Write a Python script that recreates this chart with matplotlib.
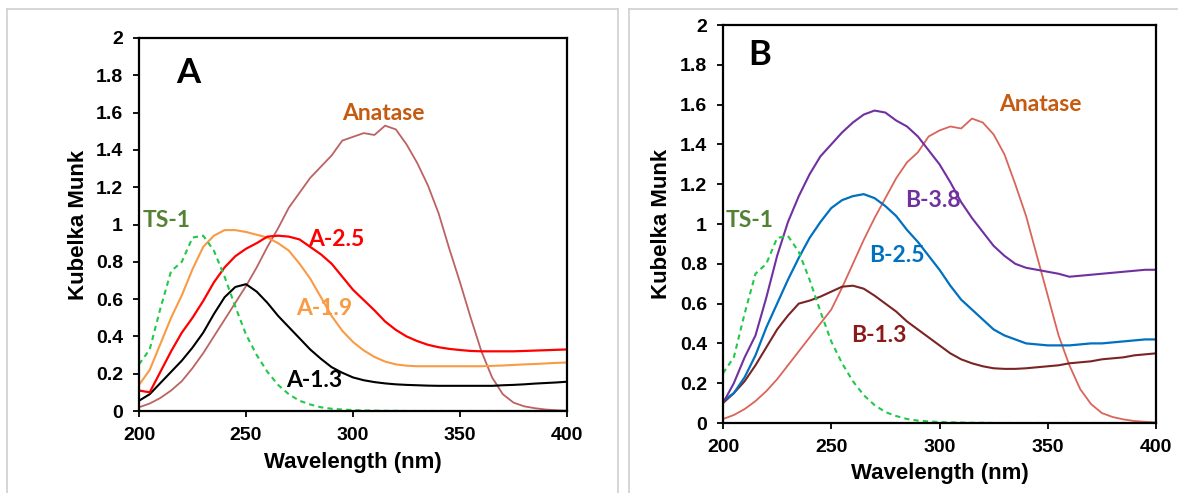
import numpy as np
import matplotlib
matplotlib.use('Agg')
import matplotlib.pyplot as plt
from matplotlib.lines import Line2D
from matplotlib.ticker import FuncFormatter

# wavelength grid, 5 nm steps
wl = np.arange(200, 401, 5)

# --- panel A ---
ts1 = [0.25, 0.33, 0.55, 0.75, 0.80, 0.93, 0.94, 0.86, 0.72, 0.56, 0.41,
       0.30, 0.21, 0.14, 0.09, 0.055, 0.035, 0.02, 0.012, 0.008, 0.005,
       0.003, 0.002, 0.001, 0.001, 0.0, 0.0, 0.0, 0.0, 0.0, 0.0,
       0.0, 0.0, 0.0, 0.0, 0.0, 0.0, 0.0, 0.0, 0.0, 0.0]
anatase_a = [0.02, 0.04, 0.07, 0.11, 0.16, 0.23, 0.31, 0.40, 0.49, 0.58, 0.67,
             0.77, 0.88, 0.98, 1.09, 1.17, 1.25, 1.31, 1.37, 1.45, 1.47,
             1.49, 1.48, 1.53, 1.51, 1.43, 1.33, 1.21, 1.06, 0.87, 0.69,
             0.50, 0.32, 0.18, 0.09, 0.045, 0.025, 0.015, 0.008, 0.004, 0.002]
a25 = [0.11, 0.10, 0.21, 0.32, 0.42, 0.50, 0.59, 0.69, 0.77, 0.83, 0.87,
       0.90, 0.935, 0.94, 0.935, 0.92, 0.88, 0.84, 0.79, 0.72, 0.65,
       0.595, 0.54, 0.48, 0.435, 0.40, 0.375, 0.355, 0.342, 0.333, 0.327,
       0.322, 0.32, 0.32, 0.32, 0.32, 0.322, 0.324, 0.326, 0.328, 0.33]
a19 = [0.14, 0.22, 0.36, 0.50, 0.62, 0.76, 0.88, 0.94, 0.97, 0.97, 0.96,
       0.945, 0.93, 0.90, 0.86, 0.79, 0.71, 0.61, 0.51, 0.43, 0.37,
       0.325, 0.29, 0.265, 0.25, 0.243, 0.24, 0.24, 0.24, 0.24, 0.24,
       0.24, 0.24, 0.242, 0.244, 0.247, 0.25, 0.252, 0.255, 0.258, 0.26]
a13 = [0.055, 0.09, 0.15, 0.21, 0.27, 0.34, 0.42, 0.52, 0.61, 0.665, 0.68,
       0.64, 0.58, 0.51, 0.45, 0.39, 0.33, 0.28, 0.235, 0.205, 0.18,
       0.165, 0.155, 0.148, 0.143, 0.14, 0.138, 0.136, 0.135, 0.135, 0.135,
       0.135, 0.135, 0.135, 0.138, 0.14, 0.143, 0.147, 0.15, 0.153, 0.157]

# --- panel B ---
anatase_b = [0.02, 0.04, 0.07, 0.11, 0.16, 0.22, 0.29, 0.36, 0.43, 0.50, 0.57,
             0.68, 0.80, 0.92, 1.03, 1.13, 1.23, 1.31, 1.36, 1.44, 1.47,
             1.49, 1.48, 1.53, 1.51, 1.45, 1.35, 1.20, 1.04, 0.84, 0.64,
             0.44, 0.29, 0.17, 0.095, 0.05, 0.03, 0.018, 0.01, 0.006, 0.003]
b38 = [0.10, 0.20, 0.33, 0.44, 0.63, 0.84, 1.01, 1.14, 1.25, 1.34, 1.40,
       1.46, 1.51, 1.55, 1.57, 1.56, 1.52, 1.49, 1.44, 1.37, 1.30,
       1.21, 1.11, 1.03, 0.96, 0.89, 0.84, 0.80, 0.78, 0.77, 0.76,
       0.75, 0.735, 0.74, 0.745, 0.75, 0.755, 0.76, 0.765, 0.77, 0.77]
b25 = [0.11, 0.15, 0.23, 0.34, 0.48, 0.60, 0.72, 0.83, 0.93, 1.01, 1.08,
       1.12, 1.14, 1.15, 1.13, 1.09, 1.04, 0.97, 0.91, 0.84, 0.77,
       0.69, 0.62, 0.57, 0.52, 0.47, 0.44, 0.42, 0.40, 0.395, 0.39,
       0.39, 0.39, 0.395, 0.40, 0.40, 0.405, 0.41, 0.415, 0.42, 0.42]
b13 = [0.10, 0.15, 0.21, 0.29, 0.38, 0.47, 0.54, 0.60, 0.615, 0.635, 0.66,
       0.685, 0.69, 0.675, 0.64, 0.60, 0.56, 0.51, 0.47, 0.43, 0.39,
       0.35, 0.32, 0.30, 0.285, 0.275, 0.272, 0.272, 0.275, 0.28, 0.285,
       0.29, 0.30, 0.305, 0.31, 0.32, 0.325, 0.33, 0.34, 0.345, 0.35]

W, H = 1178, 493
fig = plt.figure(figsize=(W / 100, H / 100), dpi=100)

# light grey frames around each panel
frame = '#d0d0d0'
for xs, ys in [([7, 7], [9, 500]), ([7, 618], [9, 9]), ([618, 618], [9, 500]),
               ([629, 629], [9, 500]), ([629, 1180], [9, 9])]:
    fx = [x / W for x in xs]
    fy = [1 - y / H for y in ys]
    fig.add_artist(Line2D(fx, fy, color=frame, lw=1.2, transform=fig.transFigure))

tickfont = dict(family='Liberation Sans', weight='bold', size=14)
labfont = dict(family='Liberation Sans', weight='bold', size=16)
curvefont = dict(family='Lato', weight='bold', size=16.5)


def setup(ax, xlab_y):
    ax.set_xlim(200, 400)
    ax.set_ylim(0, 2)
    ax.set_xticks([200, 250, 300, 350, 400])
    ax.set_yticks(np.arange(0, 2.01, 0.2))
    ax.yaxis.set_major_formatter(FuncFormatter(lambda v, p: '%g' % round(v, 1)))
    for s in ax.spines.values():
        s.set_linewidth(1.6)
        s.set_color('black')
    ax.tick_params(direction='out', length=4.5, width=1.3, pad=7)
    for t in ax.get_xticklabels() + ax.get_yticklabels():
        t.set_fontproperties(matplotlib.font_manager.FontProperties(**tickfont))
    ax.set_xlabel('Wavelength (nm)', **labfont)
    ax.set_ylabel('Kubelka Munk', **labfont)
    ax.xaxis.label.set_va('center')
    ax.yaxis.label.set_va('center')
    ax.xaxis.set_label_coords(0.5, xlab_y)
    ax.yaxis.set_label_coords(-0.142, 0.5)


# panel A
axA = fig.add_axes([139 / W, 1 - 411 / H, 428 / W, 373 / H])
axA.plot(wl, anatase_a, color='#bc6262', lw=1.3)
axA.plot(wl, a13, color='black', lw=1.5)
axA.plot(wl, a19, color='#f99b45', lw=1.5)
axA.plot(wl, a25, color='#ff0000', lw=1.6)
axA.plot(wl, ts1, color='#22c84a', lw=1.5, ls=(0, (2.5, 2)))
setup(axA, -0.137)
axA.text(222.9, 1.81, 'A', color='black', family='Lato', weight='bold', size=25,
         ha='center', va='center')
axA.text(314, 1.596, 'Anatase', color='#c55a11', ha='center', va='center', **curvefont)
axA.text(292.4, 0.917, 'A-2.5', color='#ff0000', ha='center', va='center', **curvefont)
axA.text(286.5, 0.55, 'A-1.9', color='#f99b45', ha='center', va='center', **curvefont)
axA.text(281.8, 0.166, 'A-1.3', color='black', ha='center', va='center', **curvefont)
axA.text(213, 1.024, 'TS-1', color='#548235', ha='center', va='center', **curvefont)

# panel B
axB = fig.add_axes([723 / W, 1 - 423 / H, 433 / W, 398 / H])
axB.plot(wl, anatase_b, color='#d9655a', lw=1.3)
axB.plot(wl, b13, color='#7b2424', lw=1.5)
axB.plot(wl, b25, color='#0070c0', lw=1.6)
axB.plot(wl, b38, color='#7030a0', lw=1.5)
axB.plot(wl, ts1, color='#22c84a', lw=1.5, ls=(0, (2.5, 2)))
setup(axB, -0.126)
axB.text(217, 1.85, 'B', color='black', family='Lato', weight='bold', size=25,
         ha='center', va='center')
axB.text(346.4, 1.598, 'Anatase', color='#c55a11', ha='center', va='center', **curvefont)
axB.text(297, 1.12, 'B-3.8', color='#7030a0', ha='center', va='center', **curvefont)
axB.text(280.2, 0.844, 'B-2.5', color='#0070c0', ha='center', va='center', **curvefont)
axB.text(272, 0.442, 'B-1.3', color='#8b1a1a', ha='center', va='center', **curvefont)
axB.text(212.5, 1.02, 'TS-1', color='#548235', ha='center', va='center', **curvefont)

plt.savefig('out.png', dpi=100)
